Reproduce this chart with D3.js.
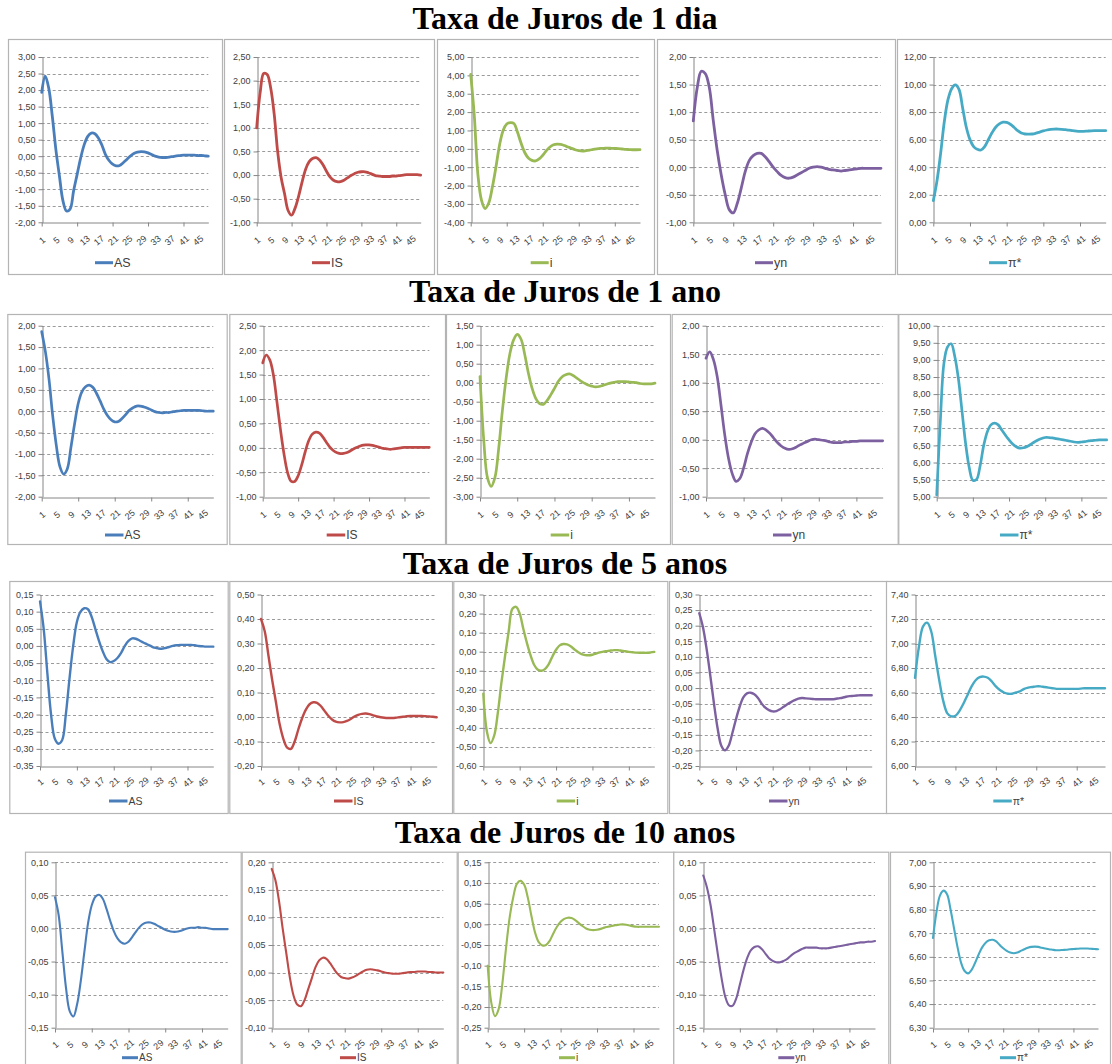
<!DOCTYPE html>
<html>
<head>
<meta charset="utf-8">
<script src="https://cdn.jsdelivr.net/npm/d3@7"></script>
<style>
  html, body { margin: 0; padding: 0; background: #ffffff; }
  svg { display: block; }
</style>
</head>
<body>
<svg id="chart" width="1112" height="1064"></svg>
<script>
// ---- categories and labels ----
const periods = [1,2,3,4,5,6,7,8,9,10,11,12,13,14,15,16,17,18,19,20,21,22,23,24,
                 25,26,27,28,29,30,31,32,33,34,35,36,37,38,39,40,41,42,43,44,45,46,47,48];
const xTickLabels = [1,5,9,13,17,21,25,29,33,37,41,45];
const xTickMarks = [1,11,21,31,41];
const variables = ["AS", "IS", "i", "yn", "π*"];
const horizons = ["Taxa de Juros de 1 dia", "Taxa de Juros de 1 ano",
                  "Taxa de Juros de 5 anos", "Taxa de Juros de 10 anos"];

// ---- impulse responses: 1-day rate ----
const AS_1dia = [1.93,2.42,2.05,1.2,0.2,-0.6,-1.35,-1.66,-1.6,-1.05,-0.55,-0.05,0.35,0.6,0.7,0.68,0.55,0.33,0.05,-0.13,-0.24,-0.29,-0.28,-0.2,-0.1,0.0,0.08,0.12,0.14,0.13,0.1,0.05,0.0,-0.03,-0.04,-0.04,-0.03,-0.01,0.01,0.02,0.03,0.03,0.03,0.03,0.02,0.02,0.01,0.0];
const IS_1dia = [1.0,1.75,2.15,2.13,1.85,1.3,0.5,-0.05,-0.4,-0.75,-0.85,-0.7,-0.45,-0.15,0.12,0.28,0.35,0.37,0.32,0.22,0.08,-0.04,-0.11,-0.14,-0.14,-0.11,-0.06,-0.01,0.03,0.06,0.07,0.07,0.05,0.02,-0.01,-0.02,-0.03,-0.03,-0.03,-0.02,-0.02,-0.01,0.0,0.01,0.01,0.01,0.01,0.0];
const i_1dia = [4.05,1.8,-1.4,-2.8,-3.25,-2.95,-2.1,-1.0,0.2,1.0,1.35,1.43,1.38,0.9,0.3,-0.2,-0.5,-0.63,-0.66,-0.55,-0.35,-0.1,0.1,0.22,0.26,0.24,0.18,0.1,0.03,-0.05,-0.1,-0.12,-0.1,-0.07,-0.03,0.0,0.02,0.03,0.04,0.03,0.02,0.01,-0.01,-0.03,-0.04,-0.05,-0.05,-0.04];
const yn_1dia = [0.84,1.45,1.74,1.7,1.45,0.85,0.3,-0.14,-0.5,-0.77,-0.83,-0.66,-0.38,-0.08,0.12,0.21,0.25,0.25,0.19,0.1,0.0,-0.08,-0.15,-0.19,-0.2,-0.18,-0.14,-0.1,-0.06,-0.02,0.0,0.01,0.0,-0.02,-0.04,-0.05,-0.06,-0.07,-0.06,-0.05,-0.04,-0.03,-0.02,-0.02,-0.02,-0.02,-0.02,-0.02];
const pi_1dia = [1.57,3.0,5.0,7.3,8.9,9.7,9.97,9.65,8.3,6.9,6.0,5.5,5.3,5.25,5.5,6.0,6.5,6.9,7.15,7.27,7.25,7.12,6.9,6.65,6.48,6.41,6.4,6.41,6.47,6.55,6.63,6.7,6.75,6.77,6.77,6.75,6.72,6.69,6.65,6.62,6.6,6.6,6.62,6.64,6.65,6.65,6.65,6.65];

// ---- 1-year rate ----
const AS_1ano = [1.86,1.4,0.75,-0.1,-0.8,-1.3,-1.47,-1.35,-0.85,-0.3,0.18,0.45,0.57,0.61,0.56,0.42,0.24,0.05,-0.1,-0.2,-0.25,-0.24,-0.17,-0.08,0.02,0.08,0.12,0.12,0.1,0.07,0.03,-0.01,-0.03,-0.04,-0.03,-0.03,-0.01,0.0,0.01,0.02,0.02,0.02,0.02,0.02,0.01,0.0,0.0,0.0];
const IS_1ano = [1.74,1.9,1.8,1.5,0.95,0.38,-0.12,-0.5,-0.68,-0.69,-0.57,-0.35,-0.08,0.15,0.28,0.32,0.3,0.22,0.11,0.01,-0.06,-0.1,-0.12,-0.11,-0.09,-0.05,-0.01,0.02,0.05,0.06,0.06,0.05,0.03,0.01,-0.01,-0.02,-0.03,-0.02,-0.01,0.0,0.01,0.01,0.01,0.01,0.01,0.01,0.01,0.01];
const i_1ano = [0.16,-1.5,-2.5,-2.73,-2.5,-1.75,-0.75,0.1,0.75,1.12,1.27,1.15,0.75,0.25,-0.15,-0.42,-0.55,-0.57,-0.47,-0.32,-0.15,0.03,0.15,0.21,0.23,0.19,0.12,0.05,-0.01,-0.06,-0.09,-0.11,-0.1,-0.07,-0.04,-0.01,0.01,0.03,0.03,0.03,0.02,0.01,0.0,-0.02,-0.03,-0.03,-0.03,-0.01];
const yn_1ano = [1.43,1.54,1.4,1.1,0.6,0.08,-0.33,-0.6,-0.73,-0.68,-0.5,-0.25,-0.05,0.1,0.17,0.2,0.17,0.11,0.03,-0.05,-0.11,-0.15,-0.17,-0.16,-0.13,-0.09,-0.06,-0.03,0.0,0.01,0.0,-0.01,-0.02,-0.04,-0.05,-0.05,-0.05,-0.04,-0.04,-0.03,-0.03,-0.02,-0.02,-0.02,-0.02,-0.02,-0.02,-0.02];
const pi_1ano = [5.05,7.2,8.9,9.38,9.47,9.1,8.45,7.5,6.55,5.85,5.48,5.5,5.9,6.5,6.9,7.1,7.15,7.1,6.95,6.8,6.66,6.54,6.46,6.42,6.43,6.47,6.53,6.6,6.66,6.7,6.73,6.73,6.72,6.7,6.68,6.66,6.64,6.62,6.6,6.59,6.6,6.61,6.63,6.64,6.65,6.66,6.66,6.66];

// ---- 5-year rate ----
const AS_5anos = [0.13,0.05,-0.08,-0.2,-0.27,-0.285,-0.275,-0.2,-0.095,0.0,0.07,0.1,0.11,0.107,0.085,0.05,0.015,-0.015,-0.038,-0.047,-0.044,-0.035,-0.02,0.0,0.015,0.022,0.021,0.016,0.01,0.005,0.0,-0.005,-0.007,-0.008,-0.006,-0.003,0.0,0.002,0.003,0.003,0.003,0.003,0.002,0.0,-0.001,-0.002,-0.002,-0.002];
const IS_5anos = [0.40,0.35,0.25,0.15,0.06,-0.03,-0.09,-0.125,-0.13,-0.1,-0.05,-0.005,0.03,0.052,0.06,0.058,0.045,0.025,0.005,-0.01,-0.019,-0.022,-0.021,-0.016,-0.008,0.002,0.009,0.013,0.014,0.012,0.007,0.002,-0.001,-0.003,-0.004,-0.004,-0.003,-0.001,0.001,0.003,0.004,0.004,0.004,0.004,0.003,0.002,0.001,-0.001];
const i_5anos = [-0.22,-0.42,-0.48,-0.44,-0.32,-0.16,-0.02,0.11,0.225,0.235,0.2,0.12,0.045,-0.02,-0.07,-0.095,-0.1,-0.09,-0.065,-0.025,0.01,0.033,0.04,0.038,0.028,0.013,-0.002,-0.013,-0.018,-0.019,-0.016,-0.01,-0.004,0.0,0.003,0.006,0.008,0.008,0.005,0.002,-0.001,-0.003,-0.005,-0.006,-0.006,-0.006,-0.004,-0.001];
const yn_5anos = [0.24,0.195,0.125,0.04,-0.05,-0.13,-0.185,-0.2,-0.185,-0.145,-0.1,-0.06,-0.03,-0.017,-0.015,-0.02,-0.032,-0.05,-0.063,-0.071,-0.075,-0.074,-0.068,-0.06,-0.052,-0.045,-0.039,-0.034,-0.032,-0.033,-0.034,-0.035,-0.036,-0.036,-0.036,-0.036,-0.036,-0.035,-0.033,-0.031,-0.028,-0.026,-0.025,-0.024,-0.023,-0.023,-0.023,-0.023];
const pi_5anos = [6.72,6.98,7.14,7.17,7.1,6.9,6.7,6.53,6.43,6.405,6.41,6.45,6.51,6.58,6.65,6.7,6.725,6.73,6.72,6.69,6.65,6.62,6.6,6.59,6.59,6.6,6.61,6.63,6.64,6.645,6.65,6.65,6.645,6.64,6.635,6.63,6.63,6.63,6.63,6.63,6.63,6.632,6.635,6.635,6.635,6.635,6.635,6.635];

// ---- 10-year rate ----
const AS_10anos = [0.047,0.02,-0.035,-0.09,-0.125,-0.133,-0.115,-0.08,-0.035,0.008,0.035,0.048,0.051,0.045,0.03,0.012,-0.004,-0.015,-0.021,-0.023,-0.02,-0.013,-0.005,0.002,0.007,0.009,0.009,0.007,0.004,0.001,-0.002,-0.004,-0.005,-0.005,-0.004,-0.002,0.0,0.001,0.001,0.002,0.001,0.001,0.0,-0.001,-0.001,-0.001,-0.001,-0.001];
const IS_10anos = [0.188,0.168,0.13,0.08,0.035,-0.01,-0.042,-0.058,-0.061,-0.05,-0.03,-0.01,0.01,0.022,0.027,0.025,0.017,0.007,-0.002,-0.008,-0.01,-0.011,-0.009,-0.006,-0.002,0.002,0.005,0.006,0.005,0.004,0.002,0.0,-0.001,-0.002,-0.002,-0.002,-0.001,0.0,0.001,0.001,0.002,0.002,0.002,0.001,0.001,0.0,0.0,0.0];
const i_10anos = [-0.1,-0.19,-0.222,-0.205,-0.145,-0.06,0.015,0.065,0.098,0.105,0.096,0.065,0.02,-0.02,-0.043,-0.051,-0.05,-0.04,-0.022,-0.006,0.006,0.013,0.016,0.015,0.01,0.003,-0.004,-0.01,-0.013,-0.014,-0.013,-0.011,-0.008,-0.006,-0.004,-0.002,-0.001,0.0,-0.001,-0.003,-0.005,-0.006,-0.006,-0.006,-0.006,-0.006,-0.006,-0.006];
const yn_10anos = [0.08,0.062,0.035,-0.002,-0.04,-0.075,-0.103,-0.116,-0.117,-0.106,-0.085,-0.063,-0.045,-0.033,-0.028,-0.027,-0.031,-0.038,-0.045,-0.049,-0.051,-0.051,-0.049,-0.046,-0.041,-0.037,-0.034,-0.031,-0.029,-0.029,-0.029,-0.029,-0.03,-0.03,-0.03,-0.029,-0.028,-0.027,-0.026,-0.025,-0.024,-0.023,-0.022,-0.021,-0.021,-0.02,-0.02,-0.019];
const pi_10anos = [6.68,6.79,6.86,6.88,6.865,6.8,6.72,6.64,6.575,6.54,6.53,6.545,6.575,6.61,6.64,6.66,6.67,6.672,6.665,6.65,6.636,6.625,6.618,6.615,6.618,6.625,6.632,6.638,6.642,6.643,6.642,6.638,6.635,6.632,6.63,6.628,6.628,6.629,6.63,6.632,6.633,6.634,6.635,6.635,6.635,6.634,6.633,6.632];

// ---- value axis ranges [min, max, step] per panel ----
const yRanges_1dia  = [[-2,3,0.5],[-1,2.5,0.5],[-4,5,1],[-1,2,0.5],[0,12,2]];
const yRanges_1ano  = [[-2,2,0.5],[-1,2.5,0.5],[-3,1.5,0.5],[-1,2,0.5],[5,10,0.5]];
const yRanges_5anos = [[-0.35,0.15,0.05],[-0.2,0.5,0.1],[-0.6,0.3,0.1],[-0.25,0.3,0.05],[6,7.4,0.2]];
const yRanges_10anos= [[-0.15,0.1,0.05],[-0.1,0.2,0.05],[-0.25,0.15,0.05],[-0.15,0.1,0.05],[6.3,7.0,0.1]];

const seriesByRow = [
  [AS_1dia, IS_1dia, i_1dia, yn_1dia, pi_1dia],
  [AS_1ano, IS_1ano, i_1ano, yn_1ano, pi_1ano],
  [AS_5anos, IS_5anos, i_5anos, yn_5anos, pi_5anos],
  [AS_10anos, IS_10anos, i_10anos, yn_10anos, pi_10anos]
];
const rangesByRow = [yRanges_1dia, yRanges_1ano, yRanges_5anos, yRanges_10anos];

// ---- styling ----
const colors = { "AS": "#4a7ebb", "IS": "#be4b48", "i": "#98b954", "yn": "#7d60a0", "π*": "#46aac5" };

// ---- layout of the four rows of panels ----
const rowLayout = [
  { titleY: 29, boxTop: 39, boxBottom: 274, plotTop: 57, plotBottom: 222.3, labelGap: 18,
    legendY: 262.7, legendSize: 12.5, legendLen: 18, lineWidth: 2.8,
    panels: [
      { left: 8, right: 222, x0: 41.7, x1: 208.3, legendX: 95 },
      { left: 224, right: 434, x0: 256.7, x1: 420.7, legendX: 312 },
      { left: 437, right: 654, x0: 470.7, x1: 640, legendX: 530.7 },
      { left: 657, right: 895, x0: 693.3, x1: 881, legendX: 755 },
      { left: 897, right: 1118, x0: 933.3, x1: 1105.7, legendX: 989 } ] },
  { titleY: 302, boxTop: 314, boxBottom: 544, plotTop: 325.7, plotBottom: 496.7, labelGap: 18,
    legendY: 535, legendSize: 12, legendLen: 18.5, lineWidth: 2.7,
    panels: [
      { left: 7.3, right: 226.7, x0: 41.7, x1: 213.3, legendX: 105 },
      { left: 229.3, right: 445, x0: 262.7, x1: 429.3, legendX: 326.7 },
      { left: 446, right: 670, x0: 480, x1: 655, legendX: 550.7 },
      { left: 671.7, right: 897.7, x0: 706, x1: 882.7, legendX: 773 },
      { left: 898.3, right: 1118, x0: 936.7, x1: 1106.7, legendX: 1000 } ] },
  { titleY: 574, boxTop: 581, boxBottom: 813, plotTop: 594.5, plotBottom: 766, labelGap: 16,
    legendY: 801, legendSize: 10.5, legendLen: 18.5, lineWidth: 2.4,
    panels: [
      { left: 9.3, right: 227.7, x0: 40, x1: 213.3, legendX: 109 },
      { left: 229.3, right: 452, x0: 261, x1: 436.7, legendX: 334 },
      { left: 453.3, right: 667.3, x0: 483.3, x1: 654.3, legendX: 556.7 },
      { left: 669, right: 886.7, x0: 699.3, x1: 871.7, legendX: 769 },
      { left: 886, right: 1118, x0: 915, x1: 1105, legendX: 993.3 } ] },
  { titleY: 843, boxTop: 851.7, boxBottom: 1080, plotTop: 862.3, plotBottom: 1027.7, labelGap: 17,
    legendY: 1057.7, legendSize: 10, legendLen: 16, lineWidth: 2.1,
    panels: [
      { left: 25, right: 240.7, x0: 55, x1: 227.7, legendX: 122 },
      { left: 241.7, right: 456.7, x0: 271.7, x1: 443.3, legendX: 340 },
      { left: 457.7, right: 673.3, x0: 487.7, x1: 659, legendX: 559 },
      { left: 673.3, right: 888.3, x0: 703.3, x1: 875, legendX: 778.3 },
      { left: 890, right: 1110, x0: 933, x1: 1098, legendX: 1000 } ] }
];

// Portuguese number format: comma decimal, hyphen minus
const locale = d3.formatLocale({ decimal: ",", thousands: ".", grouping: [3], currency: ["", ""], minus: "-" });
const fmt = locale.format(".2f");

const svg = d3.select("#chart");
const axisColor = "#868686";
const textColor = "#404040";
const labelFont = "'Liberation Sans', Arial, sans-serif";

rowLayout.forEach((row, r) => {
  // section title
  svg.append("text")
    .attr("x", 565).attr("y", row.titleY)
    .attr("text-anchor", "middle")
    .style("font-family", "'Liberation Serif', 'Times New Roman', serif")
    .style("font-weight", "bold")
    .style("font-size", "32px")
    .attr("fill", "#000")
    .text(horizons[r]);

  row.panels.forEach((p, c) => {
    const name = variables[c];
    const values = seriesByRow[r][c];
    const [lo, hi, step] = rangesByRow[r][c];
    const g = svg.append("g");

    // panel frame
    g.append("rect")
      .attr("x", p.left + 0.5).attr("y", row.boxTop + 0.5)
      .attr("width", p.right - p.left).attr("height", row.boxBottom - row.boxTop)
      .attr("fill", "#fff").attr("stroke", "#b4b4b4").attr("stroke-width", 1.2);

    const x = d3.scalePoint().domain(periods).range([p.x0, p.x1]);
    const y = d3.scaleLinear().domain([lo, hi]).range([row.plotBottom, row.plotTop]);
    const nTicks = Math.round((hi - lo) / step);
    const yTicks = d3.range(nTicks + 1).map(k => +(lo + k * step).toFixed(4));

    // dashed gridlines
    g.append("g").selectAll("line")
      .data(yTicks.slice(1))
      .join("line")
      .attr("x1", p.x0).attr("x2", p.x1)
      .attr("y1", d => Math.round(y(d)) + 0.5).attr("y2", d => Math.round(y(d)) + 0.5)
      .attr("stroke", "#8f8f8f").attr("stroke-width", 0.9)
      .attr("stroke-dasharray", "3,2.5");

    // value axis
    const yAxis = g.append("g")
      .attr("transform", `translate(${Math.round(p.x0) + 0.5},0)`)
      .call(d3.axisLeft(y).tickValues(yTicks).tickFormat(fmt)
        .tickSizeInner(4).tickSizeOuter(0).tickPadding(3));
    yAxis.select(".domain").attr("stroke", axisColor);
    yAxis.selectAll(".tick line").attr("stroke", axisColor);
    yAxis.selectAll(".tick text")
      .style("font-family", labelFont).style("font-size", "9px").attr("fill", textColor);

    // category axis (marks every 10 periods)
    const xAxis = g.append("g")
      .attr("transform", `translate(0,${Math.round(row.plotBottom) + 0.5})`)
      .call(d3.axisBottom(x).tickValues(xTickMarks).tickFormat(() => "")
        .tickSizeInner(4).tickSizeOuter(0));
    xAxis.select(".domain").attr("stroke", axisColor);
    xAxis.selectAll(".tick line").attr("stroke", axisColor);

    // slanted category labels every 4 periods
    const xLabels = g.append("g")
      .attr("transform", `translate(0,${row.plotBottom})`)
      .call(d3.axisBottom(x).tickValues(xTickLabels).tickSize(0).tickPadding(0));
    xLabels.select(".domain").remove();
    xLabels.selectAll(".tick text")
      .attr("y", 0).attr("dy", "0.35em")
      .attr("transform", `translate(0,${row.labelGap}) rotate(-40)`)
      .attr("text-anchor", "middle")
      .style("font-family", labelFont).style("font-size", "9px").attr("fill", textColor);

    // response line
    const line = d3.line()
      .x((d, k) => x(periods[k]))
      .y(d => y(d))
      .curve(d3.curveCatmullRom.alpha(0.5));
    g.append("path")
      .datum(values)
      .attr("d", line)
      .attr("fill", "none")
      .attr("stroke", colors[name])
      .attr("stroke-width", row.lineWidth)
      .attr("stroke-linejoin", "round")
      .attr("stroke-linecap", "round");

    // legend
    g.append("line")
      .attr("x1", p.legendX).attr("x2", p.legendX + row.legendLen)
      .attr("y1", row.legendY).attr("y2", row.legendY)
      .attr("stroke", colors[name]).attr("stroke-width", 3);
    g.append("text")
      .attr("x", p.legendX + row.legendLen + 1).attr("y", row.legendY)
      .attr("dy", "0.35em")
      .style("font-family", labelFont).style("font-size", row.legendSize + "px")
      .attr("fill", textColor)
      .text(name);
  });
});
</script>
</body>
</html>
